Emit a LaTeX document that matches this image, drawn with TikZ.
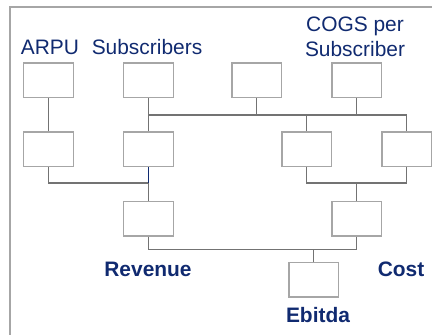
\documentclass[tikz,border=0pt]{standalone}
\usepackage{fontspec}
\setmainfont{Liberation Sans}
\definecolor{kpi navy}{RGB}{16,42,112}
\tikzset{
  kpi box/.style={
    rectangle,
    draw=black!35,
    line width=1.5bp,
    fill=white,
    minimum width=49.5bp,
    minimum height=34.5bp,
    inner sep=0pt,
  },
  kpi wire/.style={
    draw=black!55,
    line width=1.5bp,
  },
  kpi label/.style={
    text=kpi navy,
    anchor=base,
    align=center,
    inner sep=0pt,
    font=\fontsize{21}{25.5}\selectfont
  },
  kpi total/.style={
    kpi label,
    font=\fontsize{21}{25.5}\selectfont\bfseries
  }
}

\begin{document}
\begin{tikzpicture}[x=1bp,y=-1bp]
\useasboundingbox (0,0) rectangle (432,335);
\clip (0,0) rectangle (432,335);
\draw[black!35,line width=1.5bp] (10,7) rectangle (445,350);

\node[kpi box] (a1) at (48.5,80) {};
\node[kpi box] (a2) at (148.5,80) {};
\node[kpi box] (a3) at (256.5,80) {};
\node[kpi box] (a4) at (356.5,80) {};
\node[kpi box] (b1) at (48.5,149) {};
\node[kpi box] (b2) at (148.5,149) {};
\node[kpi box] (b3) at (306.5,149) {};
\node[kpi box] (b4) at (406.5,149) {};
\node[kpi box] (c1) at (148.5,218.5) {};
\node[kpi box] (c2) at (356.5,218.5) {};
\node[kpi box] (d)  at (313.5,279.5) {};

\draw[kpi wire] (a1.south) -- (b1.north);
\draw[kpi wire] (a2.south) -- (b2.north);
\draw[kpi wire] (a4.south) -- ++(0,17) coordinate (j4);
\draw[kpi wire] (a3.south) -- (a3.south |- j4);
\draw[kpi wire] (a2.south |- j4) -| (b4.north);
\draw[kpi wire] (b3.north |- j4) -- (b3.north);

\draw[kpi wire] (b1.south) -- ++(0,16) -| (c1.north);
\draw[kpi navy,line width=1.5bp] (b2.south) -- ++(0,16);
\draw[kpi wire] (b3.south) -- ++(0,16) -| (b4.south);
\draw[kpi wire] (c2.north) -- ++(0,-17.5);
\draw[kpi wire] (c1.south) -- ++(0,13) -| (c2.south);
\draw[kpi wire] (d.north) -- ++(0,-12);

\node[kpi label] (arpu) at (50,54) {ARPU};
\node[kpi label] (subs) at (147,54) {Subscribers};
\node[kpi label] (cogs) at (355,56.5) {COGS per\\Subscriber};
\node[kpi total] (rev) at (148,276) {Revenue};
\node[kpi total] (cost) at (401,276) {Cost};
\node[kpi total] (ebitda) at (318,322) {Ebitda};
\end{tikzpicture}
\end{document}
